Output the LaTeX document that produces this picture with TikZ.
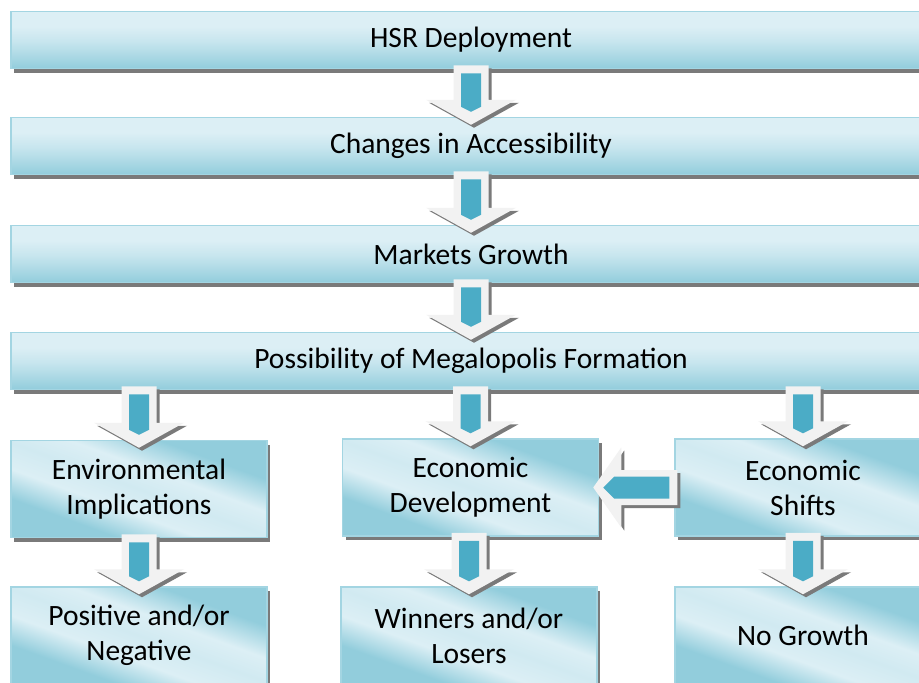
\documentclass[tikz,border=0pt]{standalone}
\usepackage{fontspec}
\setmainfont{Carlito}
\definecolor{boxlt}{HTML}{DCEFF5}
\definecolor{boxdk}{HTML}{92CDDC}
\definecolor{boxedge}{HTML}{A3D5E2}
\definecolor{arrowfill}{HTML}{F2F2F2}
\definecolor{arrowteal}{HTML}{4BACC6}
\definecolor{shadowgr}{HTML}{7A7A7A}
\usetikzlibrary{calc,shadows}

\pgfdeclareverticalshading{wideshade}{100bp}{color(0bp)=(boxdk); color(25bp)=(boxdk);
  color(48bp)=(boxlt!70!boxdk); color(62bp)=(boxlt); color(100bp)=(boxlt)}
\pgfdeclarehorizontalshading{smallshade}{100bp}{color(0bp)=(boxdk); color(31bp)=(boxdk);
  color(41bp)=(boxlt); color(50bp)=(boxlt!85!boxdk); color(58bp)=(boxlt);
  color(69bp)=(boxdk); color(100bp)=(boxdk)}

% block arrow pointing down, from #1 to #2
\newcommand{\blockdown}[2]{%
  \coordinate (s) at ($(#1.south -| #2.north)+(0,-4)$);
  \coordinate (t) at ($(#2.north)+(0,8)$);
  \fill[shadowgr,transform canvas={shift={(3pt,-3pt)}}]
    ($(s)+(-17.5,0)$) -- ($(s)+(17.5,0)$) -- ($(t)+(17.5,-25)$) -- ($(t)+(45,-25)$)
    -- (t) -- ($(t)+(-45,-25)$) -- ($(t)+(-17.5,-25)$) -- cycle;
  \fill[arrowfill]
    ($(s)+(-17.5,0)$) -- ($(s)+(17.5,0)$) -- ($(t)+(17.5,-25)$) -- ($(t)+(45,-25)$)
    -- (t) -- ($(t)+(-45,-25)$) -- ($(t)+(-17.5,-25)$) -- cycle;
  \fill[arrowteal]
    ($(s)+(-10,8)$) -- ($(s)+(10,8)$) -- ($(t)+(10,-18)$) -- ($(t)+(0,-13)$)
    -- ($(t)+(-10,-18)$) -- cycle;
}
% block arrow pointing left, from #1 to #2
\newcommand{\blockleft}[2]{%
  \coordinate (s) at ($(#1.west)+(3,0)$);
  \coordinate (t) at ($(#2.east)+(-6,0)$);
  \fill[shadowgr,transform canvas={shift={(3pt,-3pt)}}]
    ($(s)+(0,-17.5)$) -- ($(t)+(28,-17.5)$) -- ($(t)+(28,-40)$) -- (t)
    -- ($(t)+(28,40)$) -- ($(t)+(28,17.5)$) -- ($(s)+(0,17.5)$) -- cycle;
  \fill[arrowfill]
    ($(s)+(0,-17.5)$) -- ($(t)+(28,-17.5)$) -- ($(t)+(28,-40)$) -- (t)
    -- ($(t)+(28,40)$) -- ($(t)+(28,17.5)$) -- ($(s)+(0,17.5)$) -- cycle;
  \fill[arrowteal]
    ($(s)+(-8,-11)$) -- ($(t)+(21,-11)$) -- ($(t)+(10,0)$) -- ($(t)+(21,11)$)
    -- ($(s)+(-8,11)$) -- cycle;
}

\begin{document}
\begin{tikzpicture}[x=1pt,y=-1pt,
    font=\fontsize{29.5}{35}\selectfont,
    widebox/.style={
      shading=wideshade,draw=boxedge,line width=1.5pt,
      minimum width=920pt,minimum height=57pt,inner sep=0pt,align=center,
      drop shadow={shadow xshift=3pt,shadow yshift=-4pt,fill=shadowgr,opacity=1}},
    smallbox/.style={widebox,shading=smallshade,shading angle=70,
      minimum width=256pt,minimum height=97pt},
  ]
    \useasboundingbox (0,0) rectangle (919,683);
    \clip (0,0) rectangle (919,683);
    \fill[white] (0,0) rectangle (919,683);

    \node[widebox] (hsr) at (471,40) {HSR Deployment};
    \node[widebox] (access) at (471,146) {Changes in Accessibility};
    \node[widebox] (market) at (471,254) {Markets Growth};
    \node[widebox] (mega) at (471,361) {Possibility of Megalopolis Formation};

    \node[smallbox] (env) at (139,489) {Environmental\\Implications};
    \node[smallbox] (econ) at (470.5,487.5) {Economic\\Development};
    \node[smallbox] (econshift) at (803,487.5) {Economic\\Shifts};

    \node[smallbox] (posneg) at (139,635.5) {Positive and/or\\Negative};
    \node[smallbox] (winlose) at (469,635.5) {Winners and/or\\Losers};
    \node[smallbox] (nogrowth) at (803,635.5) {No Growth};

    \blockdown{hsr}{access}
    \blockdown{access}{market}
    \blockdown{market}{mega}
    \blockdown{mega}{env}
    \blockdown{mega}{econ}
    \blockdown{mega}{econshift}
    \blockdown{env}{posneg}
    \blockdown{econ}{winlose}
    \blockdown{econshift}{nogrowth}
    \blockleft{econshift}{econ}
  \end{tikzpicture}
\end{document}
